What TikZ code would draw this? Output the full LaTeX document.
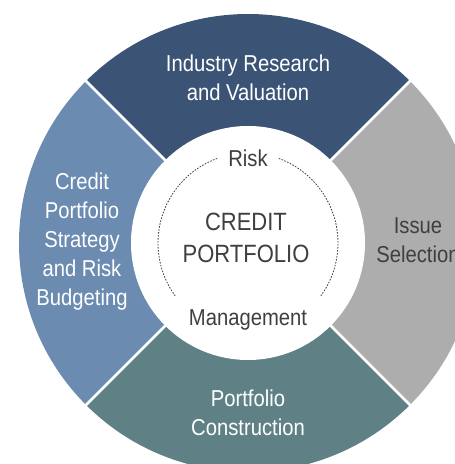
\documentclass[tikz,border=0pt]{standalone}
\usepackage{fontspec}
\setmainfont{Liberation Sans}[FakeStretch=0.88]
\definecolor{researchblue}{HTML}{3B5476}
\definecolor{budgetblue}{HTML}{6B8BB1}
\definecolor{issuegray}{HTML}{ADADAD}
\definecolor{constructteal}{HTML}{5F8186}
\definecolor{darktext}{HTML}{3F3F3F}
\begin{document}
\begin{tikzpicture}[
    x=1pt, y=1pt,
    divider/.style={white, line width=2.5pt},
    hub/.style={fill=white},
    riskring/.style={darktext, line width=0.8pt, dash pattern=on 1.6pt off 1.4pt},
    seglabel/.style={align=center, inner sep=0pt, text=white, font=\fontsize{23}{29}\selectfont},
    hublabel/.style={inner sep=0pt, text=darktext, font=\fontsize{23}{29}\selectfont},
    titlelabel/.style={align=center, inner sep=0pt, text=darktext, font=\fontsize{25}{32}\selectfont}
]
    % Rahmen wie im Original (rechts und unten abgeschnitten)
    \clip (-248,-221) rectangle (207,243);
    \useasboundingbox (-248,-221) rectangle (207,243);

    % Vier Segmente des Rings
    \fill[researchblue] (0,0) -- (45:229) arc[start angle=45, end angle=135, radius=229] -- cycle;
    \fill[budgetblue] (0,0) -- (135:229) arc[start angle=135, end angle=225, radius=229] -- cycle;
    \fill[constructteal] (0,0) -- (225:229) arc[start angle=225, end angle=315, radius=229] -- cycle;
    \fill[issuegray] (0,0) -- (-45:229) arc[start angle=-45, end angle=45, radius=229] -- cycle;

    % Weisse Trennlinien
    \draw[divider] (45:100) -- (45:240);
    \draw[divider] (135:100) -- (135:240);
    \draw[divider] (225:100) -- (225:240);
    \draw[divider] (315:100) -- (315:240);

    % Innerer Kreis
    \fill[hub] (0,0) circle[radius=117];

    % Gestrichelter Risikokreis mit Luecken fuer die Beschriftung
    \draw[riskring] (70:90) arc[start angle=70, end angle=-36, radius=90];
    \draw[riskring] (110:90) arc[start angle=110, end angle=216, radius=90];

    % Beschriftungen der Segmente
    \node[seglabel] (research) at (0,165) {Industry Research\\and Valuation};
    \node[seglabel] (budgeting) at (-166,1.5) {Credit\\Portfolio\\Strategy\\and Risk\\Budgeting};
    \node[seglabel] (construction) at (0,-169.5) {Portfolio\\Construction};
    \node[seglabel, text=darktext] (issue) at (170,3) {Issue\\Selection};

    % Mitte
    \node[hublabel, anchor=base] (risk) at (0,77) {Risk};
    \node[hublabel, anchor=base] (management) at (0,-82) {Management};
    \node[titlelabel] (credit) at (-2,5.5) {CREDIT\\PORTFOLIO};

\end{tikzpicture}
\end{document}
